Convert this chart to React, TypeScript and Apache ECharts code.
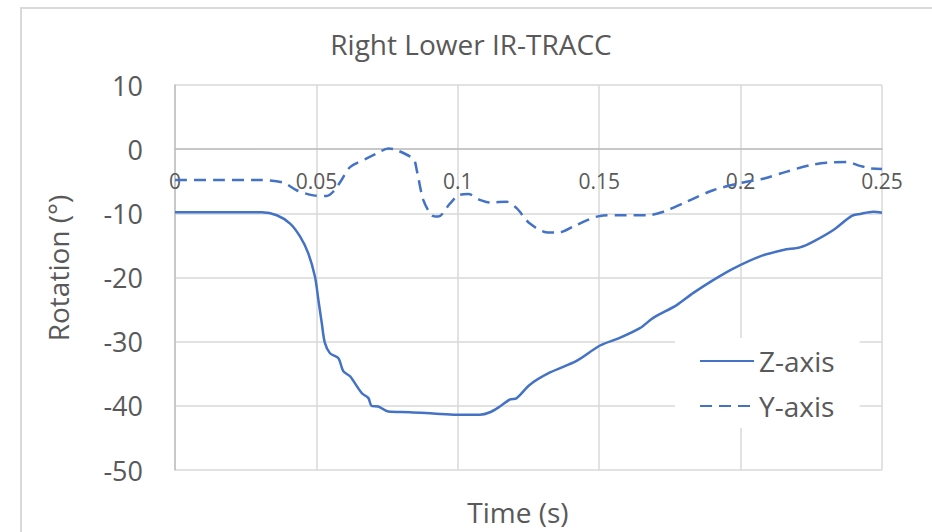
import React, { useEffect, useRef } from "react";
import * as echarts from "echarts";

const chartTitle = "Right Lower IR-TRACC";
const xAxisTitle = "Time (s)";
const yAxisTitle = "Rotation (°)";
const seriesNames = ["Z-axis", "Y-axis"];

const xTicks = [0, 0.05, 0.1, 0.15, 0.2, 0.25];
const yMin = -50;
const yMax = 10;
const yStep = 10;

const zTime = [
  0, 0.01, 0.02, 0.0307, 0.036, 0.0407, 0.0442, 0.0471, 0.0495, 0.0507, 0.0519, 0.053,
  0.0548, 0.0578, 0.0595, 0.0619, 0.066, 0.0684, 0.0695, 0.0719, 0.0754, 0.0831, 0.0913,
  0.0996, 0.1078, 0.1114, 0.1149, 0.1185, 0.1208, 0.1255, 0.1326, 0.142, 0.1503, 0.1573,
  0.1644, 0.1691, 0.1774, 0.1833, 0.1903, 0.1974, 0.2069, 0.2151, 0.221, 0.2257, 0.2328,
  0.2393, 0.2422, 0.2469, 0.25,
];
const zValue = [
  -9.85, -9.85, -9.85, -9.85, -10.3, -11.6, -13.6, -16.2, -19.9, -23.5, -27.1, -30.2,
  -31.8, -32.6, -34.6, -35.4, -38.0, -38.8, -40.0, -40.1, -40.9, -41.0, -41.2,
  -41.4, -41.4, -41.0, -40.1, -39.0, -38.8, -36.7, -34.8, -33.0, -30.6, -29.4,
  -27.9, -26.3, -24.3, -22.4, -20.4, -18.6, -16.7, -15.7, -15.3, -14.4, -12.6,
  -10.4, -10.1, -9.75, -9.9,
];

const yTime = [
  0, 0.015, 0.03, 0.0383, 0.043, 0.0489, 0.0536, 0.056, 0.0589, 0.0619, 0.0678, 0.0713,
  0.0754, 0.0784, 0.0843, 0.0855, 0.0878, 0.0908, 0.0931, 0.0972, 0.1002, 0.1037, 0.1078,
  0.1114, 0.1173, 0.1208, 0.1255, 0.132, 0.1355, 0.142, 0.1503, 0.1562, 0.1668, 0.1727,
  0.1809, 0.1903, 0.1998, 0.208, 0.2163, 0.2245, 0.2304, 0.2375, 0.2422, 0.2457, 0.25,
];
const yValue = [
  -4.8, -4.8, -4.8, -5.2, -6.4, -7.2, -7.3, -6.6, -4.8, -2.8, -1.45, -0.7,
  0.1, -0.15, -1.55, -3.3, -7.9, -10.3, -10.5, -8.5, -7.2, -7.0, -7.9,
  -8.3, -8.2, -9.2, -11.6, -13.0, -13.0, -11.8, -10.4, -10.3, -10.3, -9.75,
  -8.2, -6.4, -5.3, -4.6, -3.5, -2.5, -2.1, -2.0, -2.6, -3.0, -3.1,
];

const zip = (a: number[], b: number[]) => a.map((t, i) => [t, b[i]]);

const FONT = "Open Sans";
const TEXT = "#595959";
const BLUE = "#4472C4";

export default function App() {
  const ref = useRef<HTMLDivElement>(null);
  useEffect(() => {
    document.body.style.margin = "0";
    if (!ref.current) return;
    const chart = echarts.init(ref.current, null, { renderer: "svg" });
    // pixel distance from the plot bottom to the value-0 line, via the grid size
    const plotHeight = 532 - 85 - 62;
    const zeroOffset = -plotHeight * (0 - yMin) / (yMax - yMin);
    chart.setOption({
      animation: false,
      backgroundColor: "#ffffff",
      title: {
        text: chartTitle,
        left: 471,
        top: 30,
        textAlign: "center",
        padding: 0,
        textStyle: { fontFamily: FONT, fontSize: 28, fontWeight: "normal", color: TEXT },
      },
      graphic: [
        {
          type: "rect",
          shape: { x: 21, y: 8, width: 1000, height: 600 },
          style: { fill: "none", stroke: "#d9d9d9", lineWidth: 2 },
          silent: true,
          z: -10,
        },
        {
          type: "text",
          x: 58,
          y: 268,
          rotation: Math.PI / 2,
          style: {
            text: yAxisTitle,
            fontFamily: FONT,
            fontSize: 28,
            fill: TEXT,
            textAlign: "center",
            textVerticalAlign: "middle",
          },
        },
        {
          type: "text",
          x: 518,
          y: 512,
          style: {
            text: xAxisTitle,
            fontFamily: FONT,
            fontSize: 28,
            fill: TEXT,
            textAlign: "center",
            textVerticalAlign: "middle",
          },
        },
      ],
      grid: { left: 175, right: 50, top: 85, bottom: 62, containLabel: false },
      xAxis: [
        {
          type: "value",
          min: xTicks[0],
          max: xTicks[xTicks.length - 1],
          interval: 0.05,
          axisLine: { show: false },
          axisTick: { show: false },
          axisLabel: { show: false },
          splitLine: { show: true, lineStyle: { color: "#d9d9d9", width: 1.5 } },
        },
        {
          type: "value",
          position: "bottom",
          offset: zeroOffset,
          min: xTicks[0],
          max: xTicks[xTicks.length - 1],
          interval: 0.05,
          axisLine: { show: true, onZero: false, lineStyle: { color: "#bfbfbf", width: 1.5 } },
          axisTick: { show: false },
          axisLabel: {
            margin: 21,
            fontFamily: FONT,
            fontSize: 21,
            color: TEXT,
            formatter: (v: number) => String(Math.round(v * 100) / 100),
          },
          splitLine: { show: false },
        },
      ],
      yAxis: {
        type: "value",
        min: yMin,
        max: yMax,
        interval: yStep,
        axisLine: { show: true, lineStyle: { color: "#bfbfbf", width: 1.5 } },
        axisTick: { show: false },
        axisLabel: { margin: 32, fontFamily: FONT, fontSize: 27, color: TEXT },
        splitLine: { show: true, lineStyle: { color: "#d9d9d9", width: 1.5 } },
      },
      legend: {
        orient: "vertical",
        left: 675,
        top: 338,
        backgroundColor: "#ffffff",
        padding: [9, 25, 8, 24],
        itemWidth: 54,
        itemHeight: 14,
        itemGap: 17,
        itemStyle: { opacity: 0 },
        textStyle: { fontFamily: FONT, fontSize: 28, color: TEXT },
        data: seriesNames,
      },
      series: [
        {
          name: seriesNames[0],
          type: "line",
          xAxisIndex: 0,
          data: zip(zTime, zValue),
          smooth: 0.3,
          symbol: "none",
          showSymbol: false,
          lineStyle: { color: BLUE, width: 2.5 },
          itemStyle: { color: BLUE },
        },
        {
          name: seriesNames[1],
          type: "line",
          xAxisIndex: 0,
          data: zip(yTime, yValue),
          smooth: 0.3,
          symbol: "none",
          showSymbol: false,
          lineStyle: { color: BLUE, width: 2.5, type: [12, 7] },
          itemStyle: { color: BLUE },
        },
      ],
    });
    return () => chart.dispose();
  }, []);
  return <div ref={ref} style={{ width: 932, height: 532 }} />;
}
